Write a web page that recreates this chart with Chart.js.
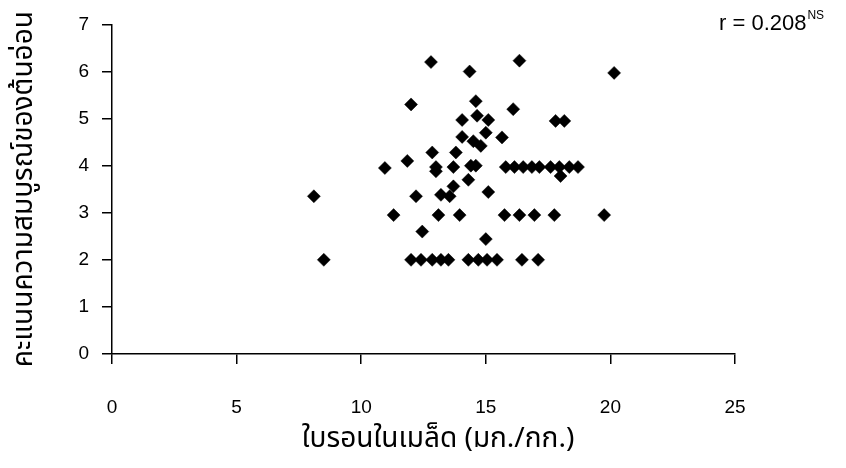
<!DOCTYPE html>
<html>
<head>
<meta charset="utf-8">
<script src="https://cdn.jsdelivr.net/npm/chart.js@4.4.0/dist/chart.umd.min.js"></script>
<style>
  body { margin: 0; background: #fff; }
  #wrap { width: 846px; height: 468px; position: relative; }
</style>
</head>
<body>
<div id="wrap"><canvas id="boron-chart"></canvas></div>
<script>
// boron in seed (mg/kg) vs seedling vigour score
const boronX = [
    8.1, 8.5, 10.95, 11.3, 11.85, 12.0, 12.2, 12.0, 12.4, 12.45,
    12.8, 12.85, 12.85, 13.0, 13.0, 13.1, 13.2, 13.2, 13.55, 13.5,
    13.7, 13.7, 13.8, 13.95, 14.05, 14.05, 14.3, 14.3, 14.35, 14.4,
    14.5, 14.6, 14.65, 14.6, 14.7, 14.8, 15.0, 15.0, 15.05, 15.1,
    15.1, 15.45, 15.65, 15.75, 15.8, 16.1, 16.15, 16.35, 16.35, 16.45,
    16.5, 16.85, 16.95, 17.1, 17.15, 17.6, 17.75, 17.8, 17.95, 18.0,
    18.15, 18.35, 18.7, 19.75, 20.15
];
const scoreY = [
    3.35, 2.0, 3.95, 2.95, 4.1, 5.3, 3.35, 2.0, 2.0, 2.6,
    6.2, 4.28, 2.0, 3.97, 3.88, 2.95, 3.38, 2.0, 3.35, 2.0,
    3.97, 3.56, 4.28, 2.95, 4.97, 4.61, 3.7, 2.0, 6.0, 4.0,
    4.52, 5.37, 5.06, 4.0, 2.0, 4.42, 4.7, 2.44, 2.0, 4.97,
    3.44, 2.0, 4.6, 2.95, 3.97, 5.2, 3.97, 6.23, 2.95, 2.0,
    3.97, 3.97, 2.95, 2.0, 3.97, 3.97, 2.95, 4.95, 3.97, 3.78,
    4.95, 3.97, 3.97, 2.95, 5.97
];
const xTicks = [0, 5, 10, 15, 20, 25];
const yTicks = [0, 1, 2, 3, 4, 5, 6, 7];
const corrLabel = "r = 0.208";
const corrSig = "NS";

const tickFont = { family: "'Liberation Sans', Arial, sans-serif", size: 19 };
const thaiFont = { family: "'Noto Sans Thai', 'Noto Sans', 'DejaVu Sans', sans-serif", size: 28 };

const points = boronX.map((x, i) => ({ x: x, y: scoreY[i] }));

const corrText = {
    id: "corrText",
    afterDraw(chart) {
        const ctx = chart.ctx;
        ctx.save();
        ctx.fillStyle = "#000";
        ctx.textBaseline = "alphabetic";
        ctx.font = "22px 'Liberation Sans', Arial, sans-serif";
        ctx.fillText(corrLabel, 719, 30);
        const w = ctx.measureText(corrLabel).width;
        ctx.font = "12px 'Liberation Sans', Arial, sans-serif";
        ctx.fillText(corrSig, 719 + w + 1, 19);
        ctx.restore();
    }
};

function renderBoronChart() {
    const ctx = document.getElementById("boron-chart").getContext("2d");
    new Chart(ctx, {
        type: "scatter",
        data: {
            datasets: [
                {
                    data: points,
                    pointStyle: "rectRot",
                    pointRadius: 6.5,
                    pointBackgroundColor: "#000",
                    pointBorderColor: "#000",
                    pointBorderWidth: 0.5,
                },
            ],
        },
        options: {
            responsive: true,
            maintainAspectRatio: false,
            animation: false,
            layout: { padding: { left: 0, right: 111, top: 17, bottom: 0 } },
            plugins: { legend: { display: false }, tooltip: { enabled: false } },
            scales: {
                x: {
                    type: "linear",
                    min: 0,
                    max: 25,
                    afterBuildTicks: (s) => { s.ticks = xTicks.map((v) => ({ value: v })); },
                    afterFit: (s) => { s.height = 114; },
                    ticks: { color: "#000", font: tickFont, padding: 32, maxRotation: 0 },
                    grid: { drawOnChartArea: false, tickLength: 10, color: "#000", lineWidth: 1.5 },
                    border: { color: "#000", width: 1.5 },
                    title: {
                        display: true,
                        // leading spaces nudge the title a little right, like the original
                        text: "    ใบรอนในเมล็ด (มก./กก.)",
                        color: "#000",
                        font: thaiFont,
                        padding: { top: 0, bottom: 10 },
                    },
                },
                y: {
                    min: 0,
                    max: 7,
                    afterBuildTicks: (s) => { s.ticks = yTicks.map((v) => ({ value: v })); },
                    afterFit: (s) => { s.width = 112; },
                    ticks: { color: "#000", font: tickFont, padding: 13 },
                    grid: { drawOnChartArea: false, tickLength: 10, color: "#000", lineWidth: 1.5 },
                    border: { color: "#000", width: 1.5 },
                    title: {
                        display: true,
                        text: "คะแนนความสมบูรณ์ของต้นอ่อน",
                        color: "#000",
                        font: thaiFont,
                        padding: { top: 10, bottom: 0 },
                    },
                },
            },
        },
        plugins: [corrText],
    });
}

renderBoronChart();
</script>
</body>
</html>
